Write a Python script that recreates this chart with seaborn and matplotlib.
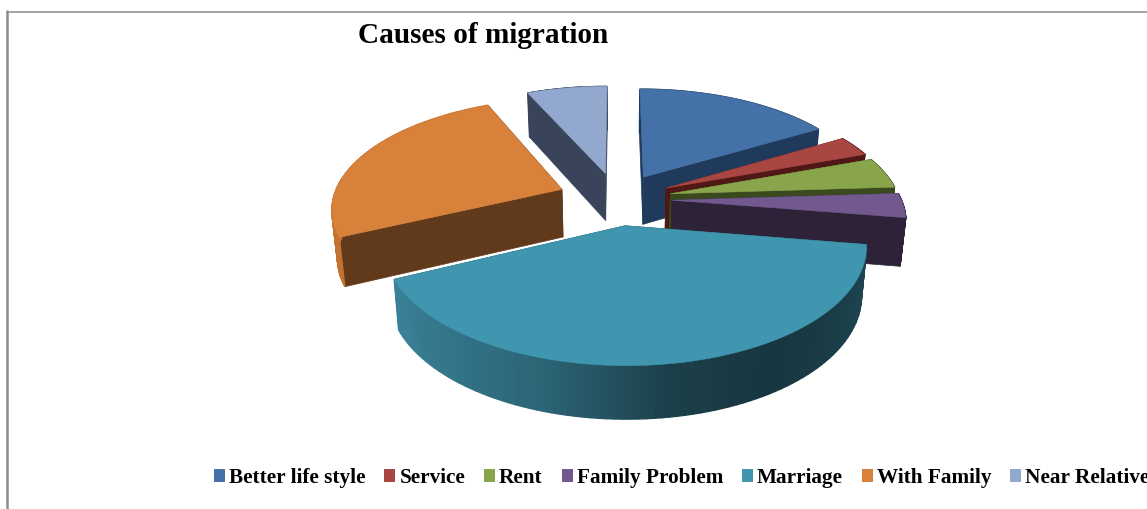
import matplotlib
matplotlib.use("Agg")
import matplotlib.pyplot as plt
import numpy as np
import seaborn as sns
from matplotlib.patches import Patch

causes = ["Better life style", "Service", "Rent", "Family Problem", "Marriage", "With Family", "Near Relative"]
shares = [16.5, 3.0, 4.5, 3.5, 40.5, 25.3, 6.7]

top_colors = ["#4472A8", "#A84642", "#88A54B", "#71588F", "#3F96AE", "#D8813B", "#93A8CF"]
side_colors = ["#1F3A5A", "#4F1715", "#3B4A1E", "#2D2238", "#1F4A57", "#613A1B", "#39445A"]
rim_colors = ["#1F3A5A", "#4F1715", "#3B4A1E", "#2D2238", "#1F4A57", "#C4722F", "#39445A"]
marriage_rim = ["#3A8299", "#337488", "#2B6374", "#1C404B", "#17363F", "#1B3F4A", "#1E4753"]

# fake 3D view: pie plane -> picture pixels
XC, YC = 617, 199
SX, SY = 229, 108.3
PERSP = 0.158
DEPTH = 48
EXPLODE = [0.24, 0.24, 0.24, 0.24, 0.24, 0.26, 0.25]
DRAW_ORDER = [6, 0, 1, 2, 3, 5, 4]  # back to front


def project(u, v, low=False):
    w = 1 + PERSP * v
    x = SX * u / w
    y = YC - SY * v / w
    if low:
        return XC + 0.98 * x, y + DEPTH / np.sqrt(w)
    return XC + x, y


def draw_slice(ax, start, stop, i):
    mid = np.radians((start + stop) / 2)
    cu, cv = EXPLODE[i] * np.sin(mid), EXPLODE[i] * np.cos(mid)
    ang = np.radians(np.linspace(start, stop, 90))
    u, v = cu + np.sin(ang), cv + np.cos(ang)

    # the two cut faces
    for a in (ang[0], ang[-1]):
        eu, ev = cu + np.sin(a), cv + np.cos(a)
        x0, y0 = project(np.array([cu, eu]), np.array([cv, ev]))
        x1, y1 = project(np.array([eu, cu]), np.array([ev, cv]), low=True)
        ax.fill(np.r_[x0, x1], np.r_[y0, y1], color=side_colors[i], lw=0.5, zorder=2)

    # outer rim, only marriage gets a shaded one
    xt, yt = project(u, v)
    xb, yb = project(u, v, low=True)
    if causes[i] == "Marriage":
        shades = sns.blend_palette(marriage_rim[::-1], len(ang) - 1)
    else:
        shades = [rim_colors[i]] * (len(ang) - 1)
    for k in range(len(ang) - 1):
        ax.fill([xt[k], xt[k + 1], xb[k + 1], xb[k]], [yt[k], yt[k + 1], yb[k + 1], yb[k]],
                color=shades[k], lw=1.0, zorder=2)

    xa, ya = project(cu, cv)
    ax.fill(np.r_[xa, xt], np.r_[ya, yt], color=top_colors[i], lw=0.4, zorder=2)


sns.set_theme(style="white")
plt.rcParams["font.family"] = ["Liberation Serif", "DejaVu Serif"]

fig = plt.figure(figsize=(11.47, 5.09), dpi=100)
ax = fig.add_axes([0, 0, 1, 1])
ax.set_xlim(0, 1147)
ax.set_ylim(509, 0)
ax.axis("off")

edges = np.r_[0, np.cumsum(shares)] * 360 / sum(shares)
for i in DRAW_ORDER:
    draw_slice(ax, edges[i], edges[i + 1], i)

# page frame
ax.plot([7, 1147], [11.5, 11.5], color="#8C8C8C", lw=1.1, zorder=1)
ax.plot([7, 7], [11, 509], color="#8C8C8C", lw=1.8, zorder=1)

ax.text(358, 43, "Causes of migration", fontsize=21.1, fontweight="bold", color="black", ha="left", va="baseline")

handles = [Patch(facecolor=c, edgecolor="none") for c in top_colors]
fig.legend(handles, causes, loc="lower left", bbox_to_anchor=(214 / 1147, 21 / 509), ncol=7, frameon=False,
           borderpad=0, borderaxespad=0, handlelength=0.52, handleheight=0.52, handletextpad=0.19,
           columnspacing=0.885, labelcolor="black",
           prop={"family": "Liberation Serif", "weight": "bold", "size": 15.3})

fig.savefig("out.png", dpi=100)
